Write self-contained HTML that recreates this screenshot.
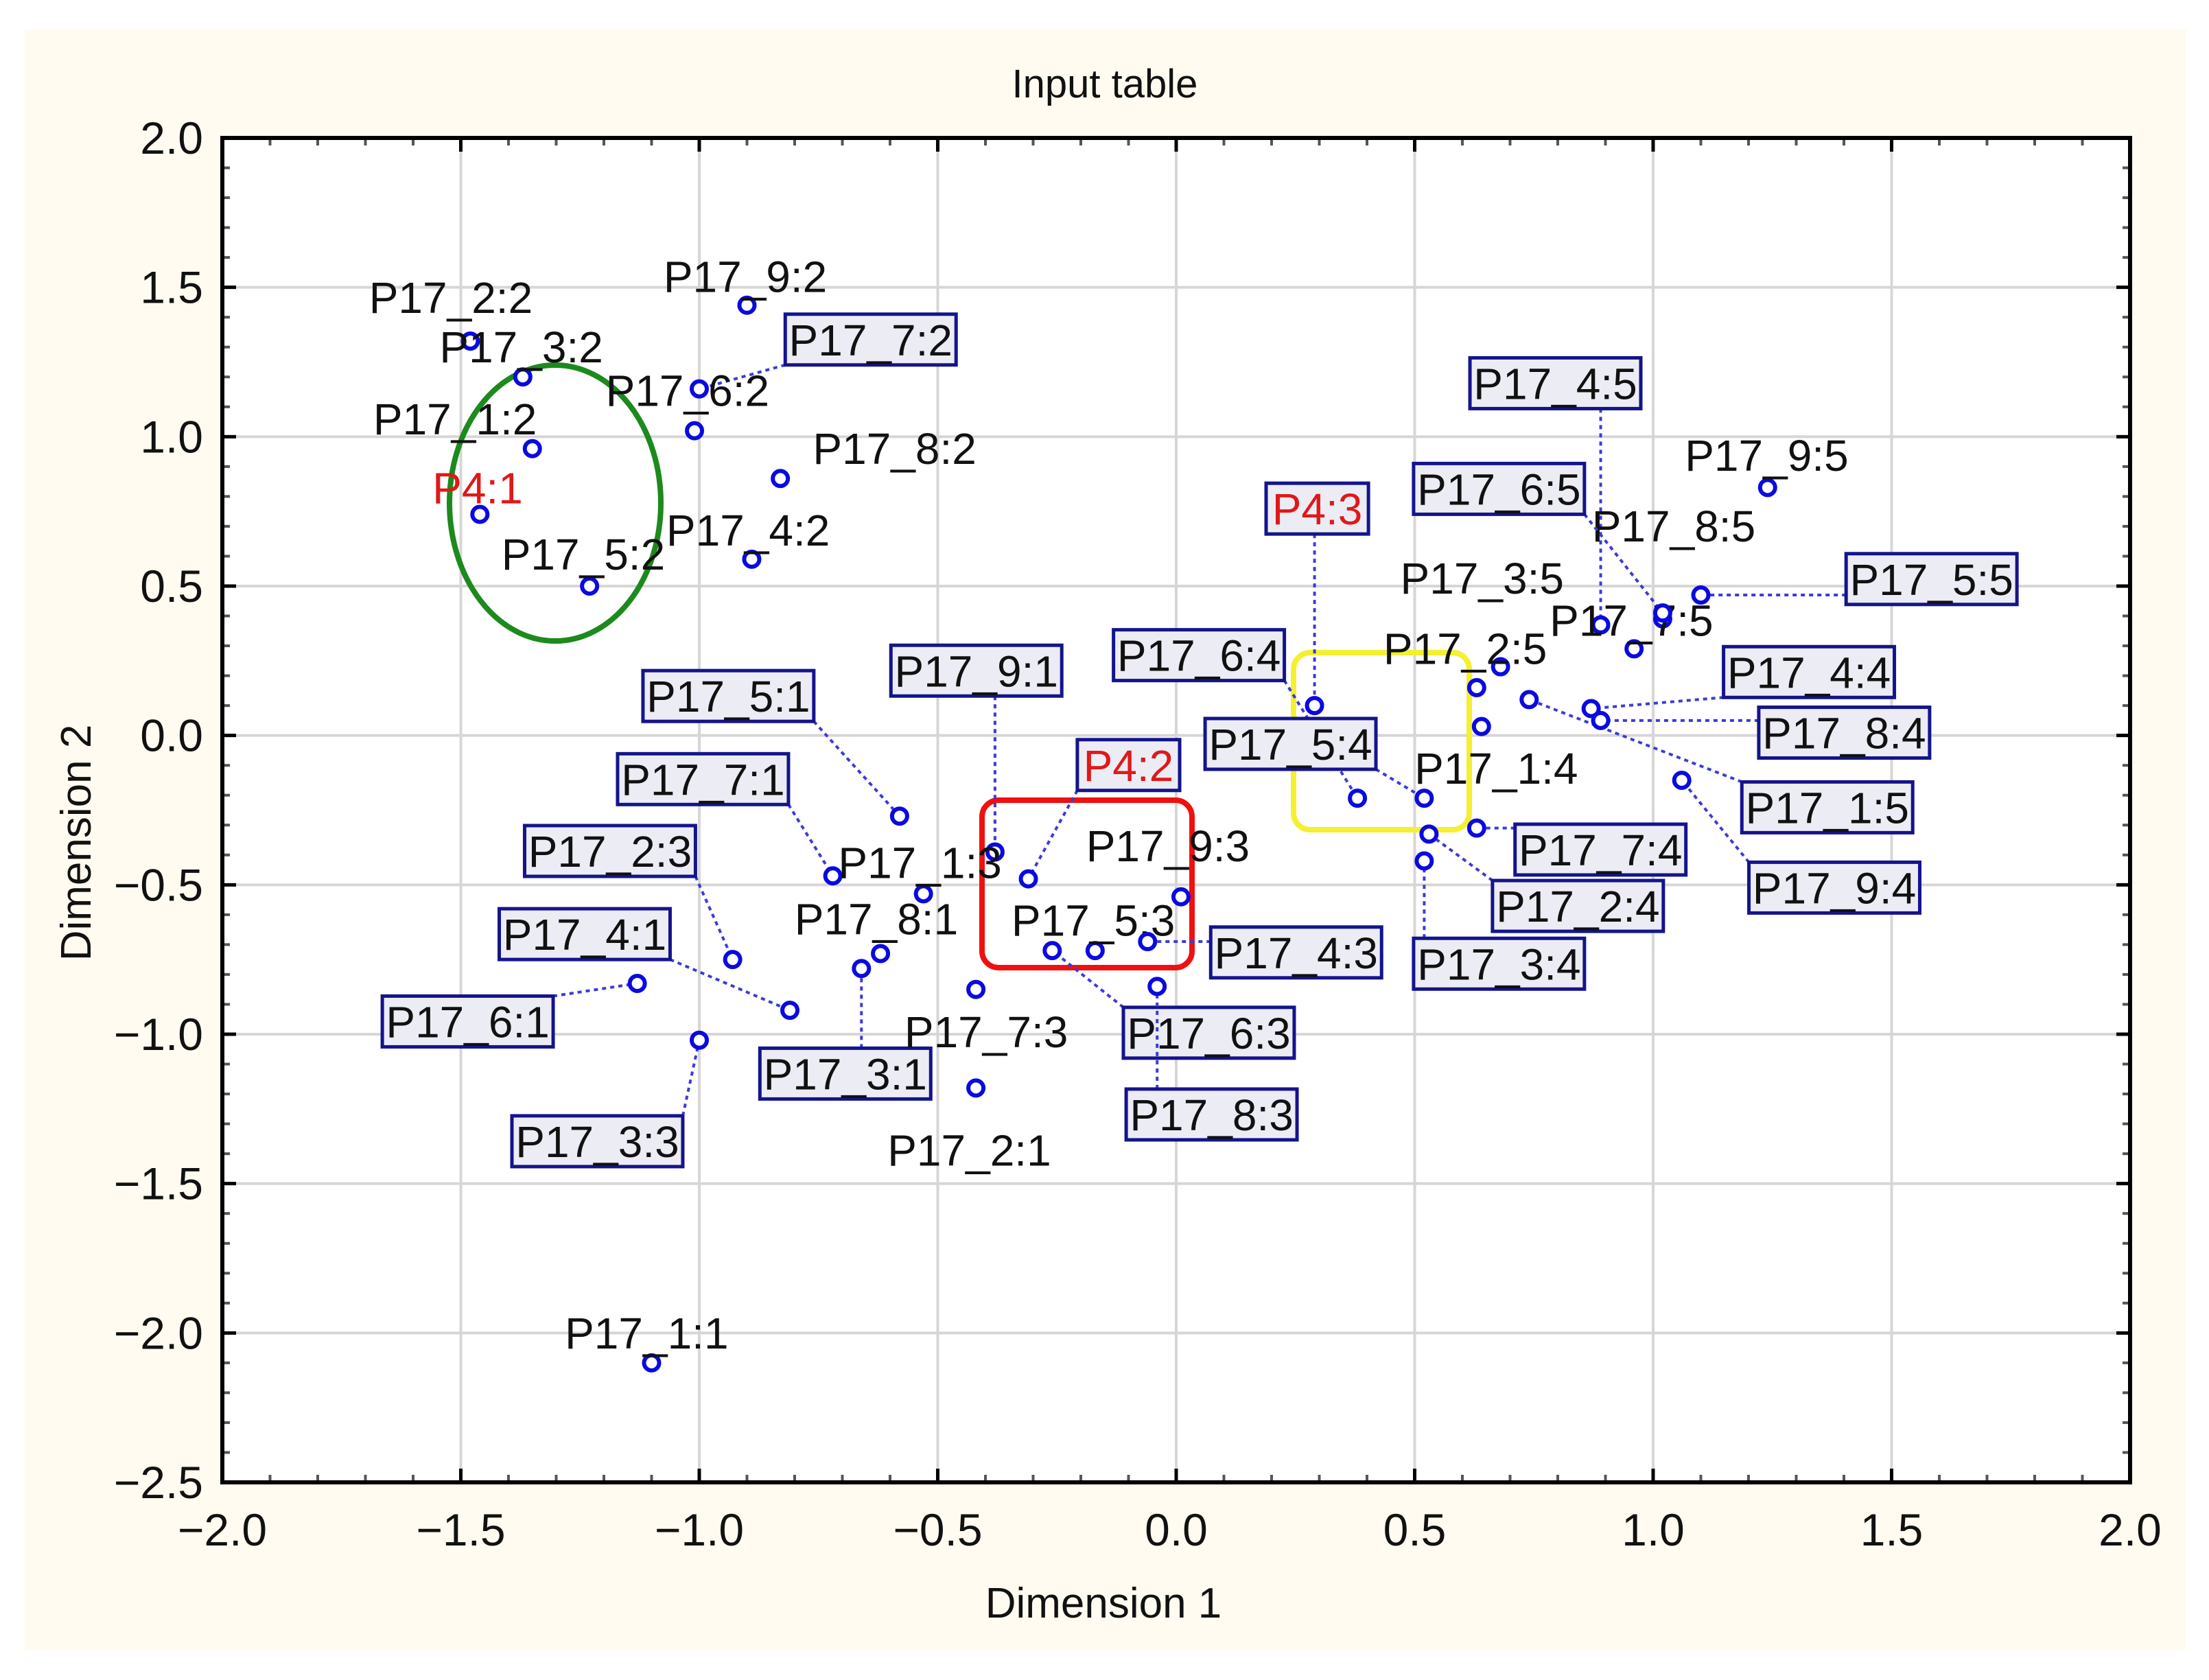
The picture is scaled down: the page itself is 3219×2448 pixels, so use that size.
<!DOCTYPE html>
<html><head><meta charset="utf-8"><style>
html,body{margin:0;padding:0;background:#fff}
svg{display:block}
text{font-family:"Liberation Sans",Arial,sans-serif}
</style></head><body>
<svg id="chart" width="3219" height="2448" viewBox="0 0 3219 2448" xmlns="http://www.w3.org/2000/svg">
<rect x="36" y="42" width="3149" height="2363" fill="#fffbf0"/>
<rect x="324" y="201" width="2780" height="1959" fill="#fff"/>
<g id="grid"></g>
<g id="ticks"></g>
<g id="shapes">
<ellipse cx="809" cy="733" rx="154" ry="201" fill="none" stroke="#1c8a1c" stroke-width="8"/>
<rect x="1431" y="1166" width="306" height="244" rx="24" fill="none" stroke="#f01010" stroke-width="8"/>
<rect x="1885" y="951" width="256" height="258" rx="24" fill="none" stroke="#f4f030" stroke-width="8"/>
</g>
<g id="marks"></g>
<rect x="324" y="201" width="2780" height="1959" fill="none" stroke="#000" stroke-width="6"/>
<text x="1610" y="142" font-size="58" text-anchor="middle" fill="#111">Input table</text>
<text x="1608" y="2357" font-size="62" text-anchor="middle" fill="#111">Dimension 1</text>
<text x="0" y="0" font-size="62" text-anchor="middle" fill="#111" transform="translate(132,1228) rotate(-90)">Dimension 2</text>
</svg>
<script>
const xTicks=[-2.0,-1.5,-1.0,-0.5,0.0,0.5,1.0,1.5,2.0];
const yTicks=[2.0,1.5,1.0,0.5,0.0,-0.5,-1.0,-1.5,-2.0,-2.5];
const pointNames=["P17_2:2","P17_3:2","P17_1:2","P4:1","P17_5:2","P17_9:2","P17_7:2","P17_6:2","P17_8:2","P17_4:2","P17_5:1","P17_7:1","P17_9:1","P17_1:3","P17_8:1","P17_3:1","P17_2:3","P17_4:1","P17_6:1","P17_3:3","P17_7:3","P17_2:1","P17_1:1","P4:2","P17_9:3","P17_5:3","P17_6:3","P17_4:3","P17_8:3","P4:3","P17_6:4","P17_5:4","P17_2:4","P17_3:4","P17_7:4","P17_3:5","P17_1:4","P17_2:5","P17_1:5","P17_4:4","P17_8:4","P17_4:5","P17_8:5","P17_7:5","P17_6:5","P17_5:5","P17_9:5","P17_9:4"];
const dim1=[-1.48,-1.37,-1.35,-1.46,-1.23,-0.90,-1.00,-1.01,-0.83,-0.89,-0.58,-0.72,-0.38,-0.53,-0.62,-0.66,-0.93,-0.81,-1.13,-1.00,-0.42,-0.42,-1.10,-0.31,0.01,-0.17,-0.26,-0.06,-0.04,0.29,0.38,0.52,0.53,0.52,0.63,0.63,0.64,0.68,0.74,0.87,0.89,0.89,0.96,1.02,1.02,1.10,1.24,1.06];
const dim2=[1.32,1.20,0.96,0.74,0.50,1.44,1.16,1.02,0.86,0.59,-0.27,-0.47,-0.39,-0.53,-0.73,-0.78,-0.75,-0.92,-0.83,-1.02,-0.85,-1.18,-2.10,-0.48,-0.54,-0.72,-0.72,-0.69,-0.84,0.10,-0.21,-0.21,-0.33,-0.42,-0.31,0.16,0.03,0.23,0.12,0.09,0.05,0.37,0.29,0.39,0.41,0.47,0.83,-0.15];
// label layout (preview-scale centres) and style flags: 0 plain, 1 boxed
const labelCx=[320,370,323,339,414,529,618,488,635,531,517,499,693,653,622,600,433,415,332,424,700,688,459,801,829,776,858,920,860,935,851,916,1120,1064,1136,1052,1062,1040,1297,1284,1309,1104,1188,1158,1064,1371,1254,1302];
const labelCy=[211,246,297,346,393,196,241,277,318,376,494,553,476,612,652,762,604,663,725,810,732,816,946,543,600,653,733,676,791,361,465,528,643,684,603,410,545,460,573,477,520,272,373,440,347,411,323,630];
const labelBoxed=[0,0,0,0,0,0,1,0,0,0,1,1,1,0,0,1,1,1,1,1,0,0,0,1,0,0,1,1,1,1,1,1,1,1,1,0,0,0,1,1,1,1,0,0,1,1,0,1];

const NS="http://www.w3.org/2000/svg";
const L=324,R=3104,T=201,B=2160,S=2.053;
const sx=v=>L+(v+2)/4*(R-L);
const sy=v=>T+(2-v)/4.5*(B-T);
function mk(tag,attrs,parent){const e=document.createElementNS(NS,tag);for(const k in attrs)e.setAttribute(k,attrs[k]);parent.appendChild(e);return e;}
const grid=document.getElementById('grid'),ticks=document.getElementById('ticks'),marks=document.getElementById('marks'),svg=document.getElementById('chart');

xTicks.forEach(v=>{
  const x=sx(v);
  if(v>-2&&v<2){const g=mk('line',{x1:x,x2:x,y1:T,y2:B,stroke:'#d6d6d6','stroke-width':4},grid);
  
  }
  const t=mk('text',{x:x,y:2252,'font-size':66,'text-anchor':'middle',fill:'#111'},svg);
  
  
  t.textContent=(v<0?'\u2212':'')+Math.abs(v).toFixed(1);
  mk('line',{x1:x,x2:x,y1:B,y2:B-20,stroke:'#000','stroke-width':5},ticks);
  mk('line',{x1:x,x2:x,y1:T,y2:T+20,stroke:'#000','stroke-width':5},ticks);
});
for(let i=0;i<40;i++){if(i%5===0)continue;const x=sx(-2+i*0.1);
  mk('line',{x1:x,x2:x,y1:B,y2:B-11,stroke:'#555','stroke-width':4},ticks);
  mk('line',{x1:x,x2:x,y1:T,y2:T+11,stroke:'#555','stroke-width':4},ticks);}
yTicks.forEach(v=>{
  const y=sy(v);
  if(v<2&&v>-2.5){const g=mk('line',{x1:L,x2:R,y1:y,y2:y,stroke:'#d6d6d6','stroke-width':4},grid);
  
  }
  const t=mk('text',{x:296,y:y+23,'font-size':66,'text-anchor':'end',fill:'#111'},svg);
  
  
  t.textContent=(v<0?'\u2212':'')+Math.abs(v).toFixed(1);
  mk('line',{x1:L,x2:L+20,y1:y,y2:y,stroke:'#000','stroke-width':5},ticks);
  mk('line',{x1:R,x2:R-20,y1:y,y2:y,stroke:'#000','stroke-width':5},ticks);
});
for(let i=0;i<45;i++){if(i%5===0)continue;const y=sy(2-i*0.1);
  mk('line',{x1:L,x2:L+11,y1:y,y2:y,stroke:'#555','stroke-width':4},ticks);
  mk('line',{x1:R,x2:R-11,y1:y,y2:y,stroke:'#555','stroke-width':4},ticks);}

const fs=64;
pointNames.forEach((n,i)=>{
  const px=sx(dim1[i]),py=sy(dim2[i]);
  const cx=labelCx[i]*S,cy=labelCy[i]*S;
  const red=n.startsWith('P4');
  const w=n.length*fs*0.52+16,h=fs+10;
  if(labelBoxed[i]){
    const ex=Math.max(cx-w/2,Math.min(px,cx+w/2)),ey=Math.max(cy-h/2,Math.min(py,cy+h/2));
    const ln=mk('line',{x1:ex,y1:ey,x2:px,y2:py,stroke:'#3b3bd8','stroke-width':4,'stroke-dasharray':'6 6'},marks);
    
    
    const b=mk('rect',{x:cx-w/2,y:cy-h/2,width:w,height:h,fill:'#ececf4',stroke:'#14148c','stroke-width':5},marks);
    
    
  }
  const c=mk('circle',{cx:px,cy:py,r:11,fill:'#fff',stroke:'#0a0ae0','stroke-width':6},marks);
  
  
  const t=mk('text',{x:cx,y:cy+fs*0.36,'font-size':fs,'text-anchor':'middle',fill:red?'#e01818':'#111'},marks);
  
  
  t.textContent=n;
});
</script>
</body></html>
